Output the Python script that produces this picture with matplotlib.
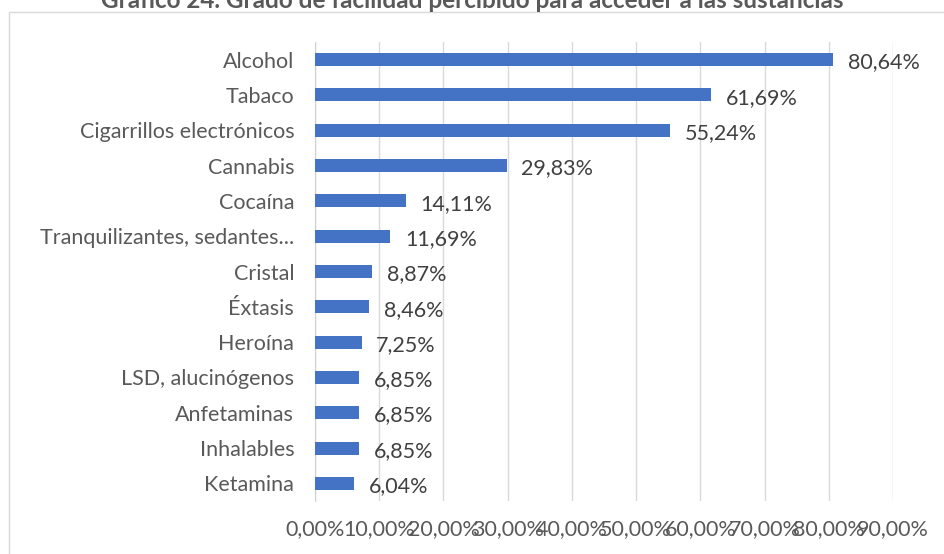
# -*- coding: utf-8 -*-
#%% modules
import matplotlib.pyplot as plt
from matplotlib.patches import Rectangle

plt.rcParams['font.family'] = ['Lato', 'DejaVu Sans']

#%% data
sustancias = ['Alcohol', 'Tabaco', 'Cigarrillos electrónicos', 'Cannabis', 'Cocaína',
              'Tranquilizantes, sedantes...', 'Cristal', 'Éxtasis', 'Heroína',
              'LSD, alucinógenos', 'Anfetaminas', 'Inhalables', 'Ketamina']
porcentajes = [80.64, 61.69, 55.24, 29.83, 14.11, 11.69, 8.87, 8.46, 7.25,
               6.85, 6.85, 6.85, 6.04]
ticks_x = [0, 10, 20, 30, 40, 50, 60, 70, 80, 90]
titulo = 'Gráfico 24. Grado de facilidad percibido para acceder a las sustancias'

def fmt(v):
    return ('%.2f%%' % v).replace('.', ',')

#%% figure
fig = plt.figure(figsize=(9.44, 5.54), dpi=100)
ax = fig.add_axes([315/944, 1 - 501/554, (893 - 315)/944, (501 - 42)/554])

pos = list(range(len(sustancias)))
ax.barh(pos, porcentajes, height=0.37, color='#4472C4', zorder=3)
ax.set_ylim(len(sustancias) - 0.5, -0.5)
ax.set_xlim(0, 90)

for p, v in zip(pos, porcentajes):
    ax.text(v + 2.3, p + 0.08, fmt(v), va='center', ha='left',
            fontsize=15.5, color='#404040')

ax.set_yticks(pos)
ax.set_yticklabels(sustancias, fontsize=15.5, color='#595959')
ax.set_xticks(ticks_x)
ax.set_xticklabels([fmt(t) for t in ticks_x], fontsize=15.5, color='#595959')
ax.tick_params(axis='both', length=0)
ax.tick_params(axis='y', pad=15)
ax.tick_params(axis='x', pad=13)

ax.grid(axis='x', color='#d9d9d9', linewidth=1, zorder=0)
for s in ['top', 'right', 'bottom']:
    ax.spines[s].set_visible(False)
ax.spines['left'].set_color('#d0d0d0')

# chart border
fig.patches.append(Rectangle((9/944, -0.1), 1.2, 1 - 12/554 + 0.1,
                             transform=fig.transFigure, fill=False,
                             edgecolor='#d9d9d9', linewidth=1))

fig.text(472/944, 1 - 8/554, titulo, ha='center', va='baseline',
         fontsize=17.5, fontweight='bold', color='#595959')

fig.savefig('out.png', dpi=100)
